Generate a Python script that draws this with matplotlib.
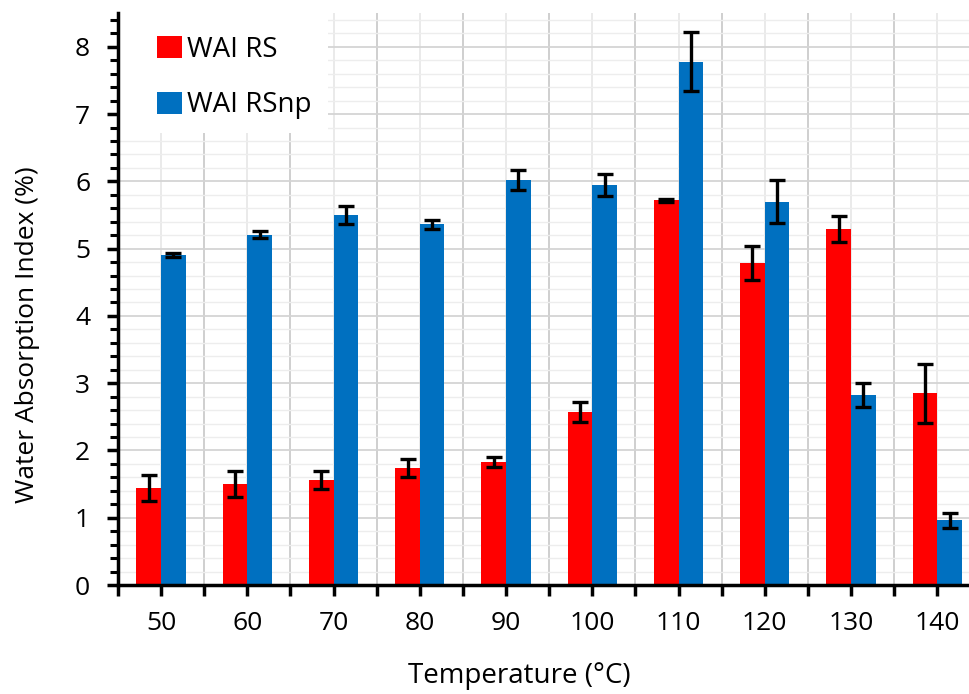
import numpy as np
import matplotlib.pyplot as plt
from matplotlib.ticker import MultipleLocator, FixedLocator
from matplotlib.patches import Rectangle

temps = ['50', '60', '70', '80', '90', '100', '110', '120', '130', '140']
wai_rs = [1.44, 1.50, 1.56, 1.74, 1.83, 2.57, 5.72, 4.79, 5.29, 2.85]
wai_rs_err = [0.19, 0.19, 0.13, 0.14, 0.08, 0.15, 0.02, 0.25, 0.19, 0.44]
wai_rsnp = [4.91, 5.21, 5.50, 5.36, 6.02, 5.95, 7.78, 5.70, 2.83, 0.96]
wai_rsnp_err = [0.03, 0.05, 0.14, 0.07, 0.15, 0.16, 0.44, 0.32, 0.18, 0.11]

plt.rcParams['font.family'] = ['Open Sans', 'DejaVu Sans']

fig = plt.figure(figsize=(9.7, 6.94), dpi=100)
ax = fig.add_axes([0.1216, 0.157, 0.8784, 0.824])

x = np.arange(len(temps))
w = 0.285
err_kw = dict(ecolor='black', elinewidth=2.4, capsize=6, capthick=2.4)
ax.bar(x - w / 2, wai_rs, w, yerr=wai_rs_err, color='#ff0000', label='WAI RS',
       error_kw=err_kw, zorder=3)
ax.bar(x + w / 2, wai_rsnp, w, yerr=wai_rsnp_err, color='#0070c0', label='WAI RSnp',
       error_kw=err_kw, zorder=3)

ax.set_xlim(-0.5, 9.38)
ax.set_ylim(0, 8.5)

ax.set_xticks(x)
ax.set_xticklabels(temps)
ax.xaxis.set_minor_locator(FixedLocator(np.arange(-0.5, 10, 1)))
ax.yaxis.set_major_locator(MultipleLocator(1))
ax.yaxis.set_minor_locator(MultipleLocator(0.2))

ax.grid(axis='y', which='major', color='#d4d4d4', lw=1.3, zorder=0)
ax.grid(axis='y', which='minor', color='#ededed', lw=1.0, zorder=0)
ax.grid(axis='x', which='minor', color='#cfcfcf', lw=1.4, zorder=0)
ax.grid(axis='x', which='major', color='#e6e6e6', lw=1.2, zorder=0)

for s in ['top', 'right']:
    ax.spines[s].set_visible(False)
for s in ['left', 'bottom']:
    ax.spines[s].set_linewidth(2.5)
    ax.spines[s].set_zorder(4)

ax.tick_params(axis='x', which='both', direction='out', length=8, width=2.5, labelsize=19, pad=11)
ax.tick_params(axis='y', which='major', direction='out', length=8, width=2.5, labelsize=19, pad=12)
ax.tick_params(axis='y', which='minor', direction='out', length=6, width=2.2)

ax.set_xlabel('Temperature (°C)', fontsize=20)
ax.set_ylabel('Water Absorption Index (%)', fontsize=19)
ax.xaxis.set_label_coords(0.471, -0.135)
ax.yaxis.set_label_coords(-0.092, 0.437)

# white box behind legend
ax.add_patch(Rectangle((0, 0.79), 0.246, 0.21, transform=ax.transAxes,
                       facecolor='white', edgecolor='none', zorder=2))
leg = ax.legend(loc='upper left', bbox_to_anchor=(0.03, 0.985), fontsize=20,
                frameon=False, handlelength=0.87, handleheight=0.87,
                handletextpad=0.2, labelspacing=1.0, borderpad=0)
leg.set_zorder(5)

fig.savefig('out.png', dpi=100)
